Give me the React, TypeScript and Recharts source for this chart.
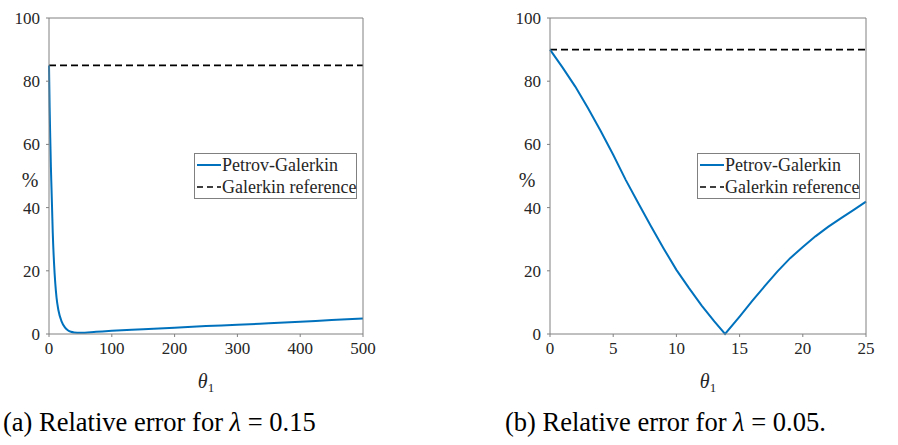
import { LineChart, Line, XAxis, YAxis, Legend } from 'recharts';

// (a) lambda = 0.15
const leftTheta = [0, 1, 2, 3, 4, 5, 6, 8, 10, 12, 15, 20, 25, 30, 35, 40, 50, 75, 100, 150, 200, 250, 300, 350, 400, 450, 500];
const leftError = [85, 72, 62, 53, 46, 39, 32, 22.5, 16, 11.5, 7.5, 4, 2.2, 1.2, 0.7, 0.5, 0.4, 0.7, 1.0, 1.5, 2.0, 2.5, 2.9, 3.4, 3.9, 4.4, 4.9];
const leftRefTheta = [0, 500];
const leftRefError = [85, 85];
const leftXTicks = [0, 100, 200, 300, 400, 500];

// (b) lambda = 0.05
const rightTheta = [0, 1, 2, 3, 4, 5, 6, 7, 8, 9, 10, 11, 12, 13, 13.85, 15, 16, 17, 18, 19, 20, 21, 22, 23, 24, 25];
const rightError = [90, 84.3, 78.3, 71.5, 64.3, 56.7, 48.7, 41.3, 34, 27, 20.3, 14.5, 9.0, 4.0, 0, 5.5, 10.5, 15.2, 19.8, 24, 27.5, 30.9, 33.9, 36.6, 39.2, 41.9];
const rightRefTheta = [0, 25];
const rightRefError = [90, 90];
const rightXTicks = [0, 5, 10, 15, 20, 25];

const pctTicks = [0, 20, 40, 60, 80, 100];

const seriesNames = ['Petrov-Galerkin', 'Galerkin reference'];
const captions = ['(a) Relative error for ', '(b) Relative error for '];
const captionValues = ['0.15', '0.05.'];

const FONT = '"Liberation Serif", Tinos, "Times New Roman", "DejaVu Serif", "Noto Serif", serif';
const AXIS = '#808080';
const TEXT = '#262626';
const BLUE = '#0072BD';

const zip = (xs: number[], ys: number[]) => xs.map((t, i) => ({ theta: t, err: ys[i] }));

function LegendBox() {
  return (
    <div
      style={{
        width: 161,
        height: 44,
        border: `1px solid ${AXIS}`,
        background: '#fff',
        fontFamily: FONT,
        fontSize: 18,
        color: TEXT,
        lineHeight: '22px',
        whiteSpace: 'nowrap',
      }}
    >
      {seriesNames.map((name, i) => (
        <div key={name} style={{ display: 'flex', alignItems: 'center', height: 22 }}>
          <svg width={27} height={10} style={{ flex: 'none' }}>
            <line
              x1={2}
              x2={26}
              y1={5}
              y2={5}
              stroke={i === 0 ? BLUE : '#000'}
              strokeWidth={i === 0 ? 2 : 1.6}
              strokeDasharray={i === 0 ? undefined : '6 4'}
            />
          </svg>
          <span style={{ fontFamily: FONT }}>{name}</span>
        </div>
      ))}
    </div>
  );
}

interface PanelProps {
  left: number;
  width: number;
  marginLeft: number;
  marginRight: number;
  pctOffset: number;
  legendLeft: number;
  xMax: number;
  xTicks: number[];
  curve: 'monotone' | 'linear';
  main: { theta: number; err: number }[];
  ref: { theta: number; err: number }[];
}

function Panel(p: PanelProps) {
  const tickStyle = { fontFamily: FONT, fontSize: 17, fill: TEXT, style: { fontFamily: FONT } };
  return (
    <div style={{ position: 'absolute', left: p.left, top: 0, fontFamily: FONT }}>
      <LineChart
        width={p.width}
        height={400}
        margin={{ top: 17, left: p.marginLeft, right: p.marginRight, bottom: 26 }}
        style={{ fontFamily: FONT }}
      >
        <XAxis
          xAxisId="bottom"
          type="number"
          dataKey="theta"
          domain={[0, p.xMax]}
          ticks={p.xTicks}
          height={40}
          stroke={AXIS}
          tickSize={3}
          tickMargin={5}
          tick={tickStyle}
          label={(props: any) => {
            const vb = props.viewBox;
            return (
              <text x={vb.x + vb.width / 2} y={vb.y + 54} textAnchor="middle" style={{ fontFamily: FONT }} fill={TEXT}>
                <tspan fontSize={20} fontStyle="italic">θ</tspan>
                <tspan fontSize={13} dy={4}>1</tspan>
              </text>
            );
          }}
        />
        <XAxis
          xAxisId="top"
          orientation="top"
          type="number"
          dataKey="theta"
          domain={[0, p.xMax]}
          ticks={p.xTicks}
          height={1}
          stroke={AXIS}
          tickSize={3}
          tick={false}
        />
        <YAxis
          yAxisId="left"
          type="number"
          domain={[0, 100]}
          ticks={pctTicks}
          width={40}
          stroke={AXIS}
          tickSize={3}
          tickMargin={6}
          tick={tickStyle}
          label={(props: any) => {
            const vb = props.viewBox;
            return (
              <text
                x={vb.x + p.pctOffset}
                y={vb.y + vb.height / 2 + 4}
                textAnchor="middle"
                dominantBaseline="central"
                style={{ fontFamily: FONT }}
                fontSize={20}
                fill={TEXT}
              >
                %
              </text>
            );
          }}
        />
        <YAxis
          yAxisId="right"
          orientation="right"
          type="number"
          domain={[0, 100]}
          ticks={pctTicks}
          width={1}
          stroke={AXIS}
          tickSize={3}
          tick={false}
        />
        <Legend
          layout="horizontal"
          verticalAlign="middle"
          align="center"
          wrapperStyle={{ left: p.legendLeft, top: 153, width: 163, height: 46 }}
          content={() => <LegendBox />}
        />
        <Line
          xAxisId="top"
          yAxisId="right"
          data={p.ref}
          dataKey="err"
          stroke="#000"
          strokeWidth={1.6}
          strokeDasharray="7 4"
          dot={false}
          isAnimationActive={false}
        />
        <Line
          xAxisId="bottom"
          yAxisId="left"
          data={p.main}
          dataKey="err"
          type={p.curve}
          stroke={BLUE}
          strokeWidth={2}
          dot={false}
          isAnimationActive={false}
        />
      </LineChart>
    </div>
  );
}

function Caption({ left, i }: { left: number; i: number }) {
  return (
    <div
      style={{
        position: 'absolute',
        left,
        top: 407,
        fontFamily: FONT,
        fontSize: 26.5,
        color: '#000',
        whiteSpace: 'nowrap',
      }}
    >
      {captions[i]}
      <i>λ</i> = {captionValues[i]}
    </div>
  );
}

export default function App() {
  return (
    <div style={{ position: 'absolute', left: 0, top: 0, width: 898, height: 445, background: '#fff', overflow: 'hidden', fontFamily: FONT }}>
      <Panel
        left={0}
        width={400}
        marginLeft={9}
        marginRight={36}
        pctOffset={21}
        legendLeft={194}
        xMax={500}
        xTicks={leftXTicks}
        curve="monotone"
        main={zip(leftTheta, leftError)}
        ref={zip(leftRefTheta, leftRefError)}
      />
      <Panel
        left={500}
        width={398}
        marginLeft={10}
        marginRight={31}
        pctOffset={17}
        legendLeft={197}
        xMax={25}
        xTicks={rightXTicks}
        curve="linear"
        main={zip(rightTheta, rightError)}
        ref={zip(rightRefTheta, rightRefError)}
      />
      <Caption left={3} i={0} />
      <Caption left={505} i={1} />
    </div>
  );
}
